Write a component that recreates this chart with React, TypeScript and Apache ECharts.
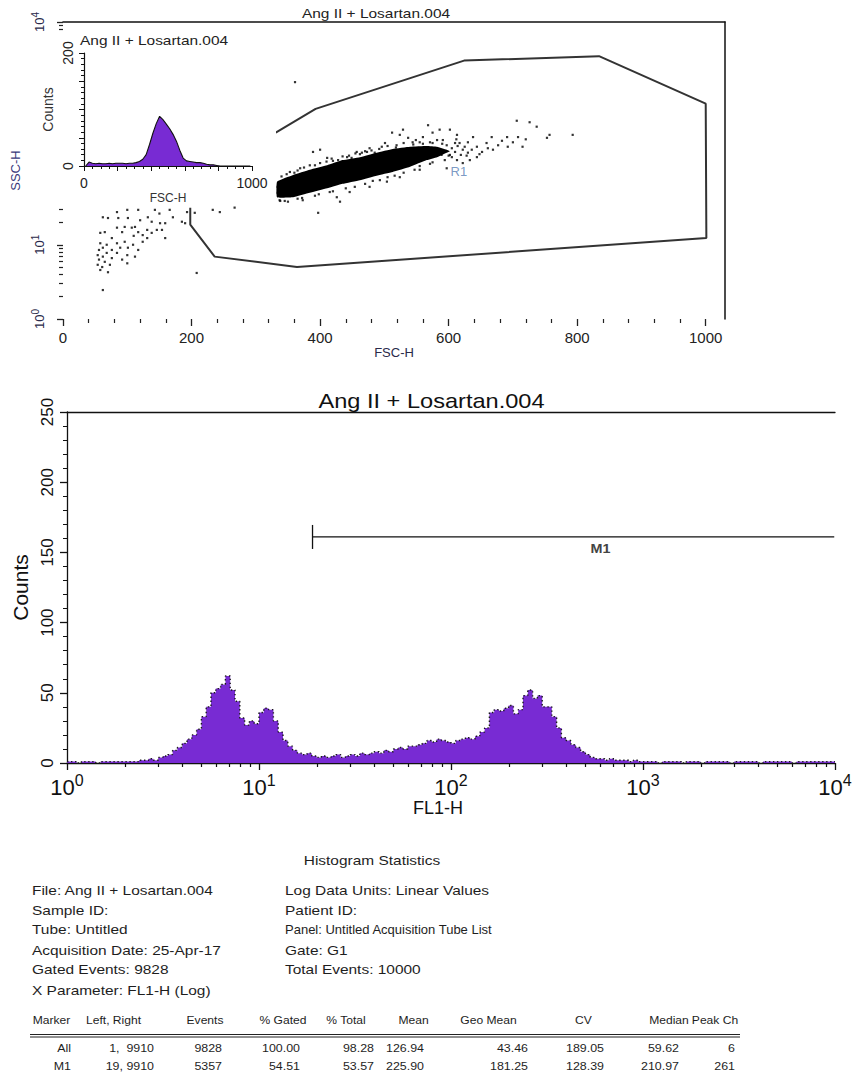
import React, { useEffect, useRef } from "react";
import * as echarts from "echarts";

const FONT = "'Liberation Sans', Arial, Helvetica, sans-serif";
const PURPLE = "#782bd3";
const TITLE = "Ang II + Losartan.004";

// ---------- Inset: FSC-H histogram (bins of 20 channels, 0..1000) ----------
const insetBinWidth = 20;
const insetCounts = [
  0, 7, 5, 4, 5, 4, 4, 5, 4, 5,
  5, 5, 4, 5, 5, 6, 8, 12, 20, 38,
  58, 75, 88, 82, 74, 66, 56, 44, 28, 14,
  9, 8, 7, 6, 6, 5, 3, 2, 2, 1,
  0, 0, 0, 0, 0, 0, 0, 0, 0, 0,
];

// ---------- Scatter FSC-H vs SSC-H (SSC as log10 decades) ----------
const coreFsc = [333, 358, 384, 411, 435, 462, 488, 513, 540, 566, 582, 597, 602, 597, 582, 566, 540, 513, 488, 462, 435, 411, 384, 358, 333];
const coreLogSsc = [1.64, 1.64, 1.70, 1.76, 1.82, 1.87, 1.93, 1.98, 2.05, 2.14, 2.18, 2.24, 2.26, 2.28, 2.32, 2.33, 2.32, 2.29, 2.24, 2.18, 2.14, 2.07, 2.01, 1.94, 1.85];

const debrisEvents = [
  [62, 1.37], [70, 1.36], [84, 1.44], [86, 1.36], [100, 1.47], [101, 1.36], [117, 1.47], [120, 1.33], [132, 1.37], [138, 1.31],
  [143, 1.47], [151, 1.29], [159, 1.29], [166, 1.47], [171, 1.37], [185, 1.31], [190, 1.29], [193, 1.44], [205, 1.43], [233, 1.47],
  [244, 1.44], [267, 1.5], [58, 1.16], [65, 1.17], [76, 1.09], [84, 1.23], [92, 1.17], [96, 1.24], [107, 1.23], [112, 1.24],
  [117, 1.17], [124, 1.13], [131, 1.2], [138, 1.16], [146, 1.2], [154, 1.2], [159, 1.09], [58, 1.02], [62, 0.96], [68, 1.0],
  [76, 0.93], [84, 1.02], [89, 0.96], [96, 1.04], [101, 0.96], [109, 1.0], [117, 0.93], [124, 1.04], [131, 1.09], [54, 0.86],
  [62, 0.84], [68, 0.89], [76, 0.82], [84, 0.89], [92, 0.8], [100, 0.86], [112, 0.84], [54, 0.73], [61, 0.7], [65, 0.77],
  [73, 0.73], [70, 0.63], [100, 0.75], [208, 0.62], [62, 0.39], [56, 0.93], [56, 0.8], [58, 0.66], [150, 1.42], [110, 1.12],
];

const cellEvents = [
  [389, 2.25], [400, 2.28], [418, 2.16], [457, 2.25], [465, 2.24], [477, 2.3], [485, 2.24], [501, 2.37], [512, 2.51], [524, 2.48],
  [529, 2.55], [537, 2.44], [544, 2.38], [560, 2.45], [568, 2.61], [575, 2.51], [586, 2.55], [591, 2.41], [602, 2.55], [613, 2.48],
  [617, 2.37], [622, 2.28], [630, 2.38], [638, 2.45], [644, 2.32], [652, 2.25], [659, 2.37], [667, 2.45], [669, 2.28], [677, 2.34],
  [691, 2.45], [692, 2.32], [708, 2.45], [715, 2.32], [726, 2.65], [737, 2.59], [753, 2.44], [757, 2.48], [793, 2.48], [706, 2.67],
  [575, 2.25], [589, 2.21], [605, 2.18], [613, 2.14], [622, 2.1], [633, 2.14], [644, 2.18], [597, 2.03], [555, 2.01], [524, 1.91],
  [504, 1.85], [477, 1.78], [446, 1.71], [426, 1.64], [431, 1.58], [373, 1.6], [337, 1.6], [342, 1.67], [411, 2.17], [442, 2.18],
  [397, 1.43], [361, 3.19], [605, 2.3], [610, 2.25], [614, 2.33], [619, 2.21], [625, 2.32], [630, 2.24], [636, 2.28], [610, 2.37],
  [597, 2.34], [602, 2.21], [369, 2.03], [353, 1.98], [384, 2.07], [428, 2.14], [449, 2.17], [473, 2.25], [496, 2.32], [519, 2.34],
  [549, 2.41], [571, 2.38], [582, 2.41], [345, 1.59], [365, 1.62], [392, 1.66], [415, 1.71], [454, 1.78], [493, 1.87], [516, 1.93],
  [547, 2.01], [571, 2.09], [594, 2.14], [648, 2.22], [661, 2.3], [683, 2.4], [700, 2.38], [720, 2.42], [612, 2.42], [628, 2.2],
  [340, 1.92], [348, 1.95], [365, 2.0], [375, 2.04], [392, 2.07], [400, 2.1], [420, 2.13], [445, 2.2], [455, 2.23], [470, 2.26],
  [480, 2.27], [505, 2.33], [530, 2.37], [555, 2.38], [575, 2.37], [590, 2.36], [338, 1.59], [350, 1.58], [372, 1.63], [398, 1.68],
  [420, 1.72], [440, 1.76], [470, 1.82], [482, 1.86], [505, 1.91], [530, 1.97], [555, 2.06], [575, 2.11], [600, 2.2], [334, 1.7],
  [334, 1.78], [336, 1.66], [360, 1.97], [410, 2.12], [435, 2.19], [462, 2.22], [492, 2.29], [518, 2.31], [545, 2.35], [560, 2.36],
];

const gateFsc = [198, 198, 236, 364, 1001, 1000, 834, 624, 393, 331];
const gateLogSsc = [1.5, 1.27, 0.84, 0.7, 1.09, 2.9, 3.54, 3.48, 2.83, 2.51];
const r1Label = [616, 1.99];

// ---------- FL1-H histogram (bins of 0.025 decade from 10^0 to 10^4) ----------
const fl1BinDecades = 0.025;
const fl1Counts = [
  1, 1, 0, 1, 1, 1, 0, 1, 1, 1, 1, 1, 1, 1, 1, 2, 2, 3, 2, 4,
  5, 6, 9, 11, 14, 17, 20, 24, 33, 40, 50, 53, 56, 62, 52, 44, 32, 27, 30, 28,
  36, 39, 38, 30, 22, 16, 12, 9, 7, 6, 7, 5, 4, 5, 4, 5, 6, 4, 5, 6,
  5, 7, 6, 7, 8, 7, 9, 8, 10, 11, 10, 12, 12, 13, 14, 16, 15, 17, 16, 15,
  14, 16, 17, 18, 17, 19, 22, 25, 36, 38, 37, 39, 41, 35, 38, 48, 52, 46, 48, 40,
  40, 33, 25, 18, 16, 13, 11, 8, 6, 4, 3, 3, 2, 3, 2, 2, 2, 1, 2, 1,
  1, 1, 1, 0, 1, 1, 1, 1, 0, 1, 1, 1, 0, 1, 1, 1, 1, 1, 0, 1,
  1, 1, 1, 1, 0, 1, 1, 1, 1, 1, 1, 0, 1, 1, 1, 1, 1, 1, 1, 1,
];
const m1Range = [19, 9910];
const m1Level = 161;
const m1LabelAt = 600;

// ---------- tick values ----------
const fscMajorTicks = [0, 200, 400, 600, 800, 1000];
const decadeTicks = [0, 1, 2, 3, 4];

// ---------- statistics text ----------
const statsLeft = [
  "File: Ang II + Losartan.004",
  "Sample ID:",
  "Tube: Untitled",
  "Acquisition Date: 25-Apr-17",
  "Gated Events: 9828",
  "X Parameter: FL1-H (Log)",
];
const statsRight = [
  "Log Data Units: Linear Values",
  "Patient ID:",
  "Panel: Untitled Acquisition Tube List",
  "Gate: G1",
  "Total Events: 10000",
];
const tableHeaders = ["Marker", "Left, Right", "Events", "% Gated", "% Total", "Mean", "Geo Mean", "CV", "Median", "Peak Ch"];
const tableRows = [
  ["All", "1,  9910", "9828", "100.00", "98.28", "126.94", "43.46", "189.05", "59.62", "6"],
  ["M1", "19, 9910", "5357", "54.51", "53.57", "225.90", "181.25", "128.39", "210.97", "261"],
];

// layout (pixels)
const statRowsY = [890.5, 910, 929.7, 950, 969.3, 990];
const headerCenters = [51.5, 113.5, 205, 283, 346, 413.5, 488.5, 583.5, 669, 715];
const columnRights = [71, 154, 222, 300, 374, 424, 528, 604, 679, 735];

function text(t: string, x: number, y: number, size: number, align = "left", sx = 1.19, color = "#1e1e1e", z = 10) {
  return {
    type: "text",
    x,
    y,
    scaleX: sx,
    z,
    style: {
      text: t,
      fontSize: size,
      fontFamily: FONT,
      fill: color,
      align,
      textAlign: align,
      verticalAlign: "middle",
      textVerticalAlign: "middle",
    },
  };
}

function buildOption() {
  const fscMinor: number[] = [];
  for (let v = 40; v < 1000; v += 40) if (v % 200 !== 0) fscMinor.push(v);
  const logMinor: number[] = [];
  for (let n = 0; n < 4; n++) for (let k = 2; k <= 9; k++) logMinor.push(n + Math.log10(k));

  const supFormatter = (v: number) => `{b|10}{s|${Math.round(v)}}`;
  const histRich = {
    b: { fontSize: 22, lineHeight: 26, verticalAlign: "bottom", fontFamily: FONT, color: "#111" },
    s: { fontSize: 16, lineHeight: 16, verticalAlign: "top", fontFamily: FONT, color: "#111" },
  };
  const scatRich = {
    b: { fontSize: 13, lineHeight: 16, verticalAlign: "bottom", fontFamily: FONT, color: "#2a2a4a" },
    s: { fontSize: 10, lineHeight: 10, verticalAlign: "top", fontFamily: FONT, color: "#2a2a4a" },
  };
  const line = (w = 1.3) => ({ show: true, onZero: false, lineStyle: { color: "#111", width: w } });
  const noLine = { show: false, onZero: false };
  const noSplit = { show: false };

  const insetData = insetCounts.map((c, i) => [i * insetBinWidth + insetBinWidth / 2, c]);
  const fl1Data = fl1Counts.map((c, i) => [i * fl1BinDecades, c]);
  fl1Data.push([fl1Counts.length * fl1BinDecades, fl1Counts[fl1Counts.length - 1]]);

  const statsElems: any[] = [];
  statsElems.push(text("Histogram Statistics", 372, 860, 13, "center"));
  statsLeft.forEach((s, i) => statsElems.push(text(s, 32, statRowsY[i], 13)));
  statsRight.forEach((s, i) =>
    statsElems.push(text(s, 285, statRowsY[i], 13, "left", i === 2 ? 1.0 : 1.19))
  );
  tableHeaders.forEach((h, i) => statsElems.push(text(h, headerCenters[i], 1019.5, 11.5, "center", 1.05)));
  tableRows.forEach((row, r) =>
    row.forEach((cell, c) => statsElems.push(text(cell, columnRights[c], 1048.5 + r * 18, 11.5, "right", 1.08)))
  );
  statsElems.push({ type: "line", shape: { x1: 30, y1: 1034.5, x2: 740, y2: 1034.5 }, style: { stroke: "#222", lineWidth: 1.2 } });
  statsElems.push({ type: "line", shape: { x1: 30, y1: 1037, x2: 740, y2: 1037 }, style: { stroke: "#222", lineWidth: 1.2 } });

  return {
    animation: false,
    backgroundColor: "#ffffff",
    textStyle: { fontFamily: FONT },
    grid: [
      { left: 63, top: 22, width: 662, height: 297 },
      { left: 84, top: 53, width: 168, height: 113 },
      { left: 67, top: 412, width: 768, height: 351 },
    ],
    xAxis: [
      {
        gridIndex: 0, type: "value", position: "bottom", min: 0, max: 1030,
        axisLine: noLine,
        axisTick: { show: true, customValues: fscMajorTicks, length: 7, lineStyle: { color: "#222", width: 1.3 } },
        axisLabel: { customValues: fscMajorTicks, formatter: (v: number) => String(v), fontSize: 15, color: "#222", margin: 11, fontFamily: FONT },
        splitLine: noSplit,
        name: "FSC-H", nameLocation: "middle", nameGap: 27,
        nameTextStyle: { fontSize: 13, color: "#2a2a4a", fontFamily: FONT },
      },
      {
        gridIndex: 0, type: "value", position: "bottom", min: 0, max: 1030,
        axisLine: noLine,
        axisTick: { show: true, customValues: fscMinor, length: 4, lineStyle: { color: "#222", width: 1.2 } },
        axisLabel: { show: false }, splitLine: noSplit,
      },
      {
        gridIndex: 0, type: "value", position: "top", min: 0, max: 1030,
        axisLine: line(1.5), axisTick: { show: false }, axisLabel: { show: false }, splitLine: noSplit,
      },
      {
        gridIndex: 1, type: "value", position: "bottom", min: 0, max: 1000, interval: 200, z: 4,
        axisLine: line(1.2),
        axisTick: { show: true, length: 5, lineStyle: { color: "#111" } },
        minorTick: { show: true, splitNumber: 4, length: 3, lineStyle: { color: "#111" } },
        axisLabel: {
          formatter: (v: number) => (v === 0 || v === 1000 ? String(v) : ""),
          fontSize: 14, color: "#222", margin: 10, fontFamily: FONT,
        },
        splitLine: noSplit,
        name: "FSC-H", nameLocation: "middle", nameGap: 26,
        nameTextStyle: { fontSize: 12, color: "#333", fontFamily: FONT },
      },
      {
        gridIndex: 2, type: "value", position: "bottom", min: 0, max: 4, interval: 1,
        axisLine: line(1.3),
        axisTick: { show: true, length: 7, lineStyle: { color: "#111", width: 1.3 } },
        axisLabel: { formatter: supFormatter, rich: histRich, margin: 9 },
        splitLine: noSplit,
        name: "FL1-H", nameLocation: "middle", nameGap: 30,
        nameTextStyle: { fontSize: 18, color: "#111", fontFamily: FONT, padding: [0, 26, 0, 0] },
      },
      {
        gridIndex: 2, type: "value", position: "bottom", min: 0, max: 4,
        axisLine: noLine,
        axisTick: { show: true, customValues: logMinor, length: 4, lineStyle: { color: "#111", width: 1.2 } },
        axisLabel: { show: false }, splitLine: noSplit,
      },
      {
        gridIndex: 2, type: "value", position: "top", min: 0, max: 4,
        axisLine: line(1.3), axisTick: { show: false }, axisLabel: { show: false }, splitLine: noSplit,
      },
    ],
    yAxis: [
      {
        gridIndex: 0, type: "value", position: "left", min: 0, max: 4,
        axisLine: noLine,
        axisTick: { show: true, customValues: decadeTicks, length: 6, lineStyle: { color: "#222", width: 1.3 } },
        axisLabel: { customValues: decadeTicks, formatter: supFormatter, rich: scatRich, rotate: 90, margin: 17 },
        splitLine: noSplit,
        name: "SSC-H", nameLocation: "middle", nameGap: 36,
        nameTextStyle: { fontSize: 13, color: "#3a3a7a", fontFamily: FONT },
      },
      {
        gridIndex: 0, type: "value", position: "left", min: 0, max: 4,
        axisLine: noLine,
        axisTick: { show: true, customValues: logMinor, length: 4, lineStyle: { color: "#222", width: 1.2 } },
        axisLabel: { show: false }, splitLine: noSplit,
      },
      {
        gridIndex: 0, type: "value", position: "right", min: 0, max: 4,
        axisLine: line(1.5), axisTick: { show: false }, axisLabel: { show: false }, splitLine: noSplit,
      },
      {
        gridIndex: 1, type: "value", position: "left", min: 0, max: 200, interval: 50, z: 4,
        axisLine: line(1.2),
        axisTick: { show: true, length: 5, lineStyle: { color: "#111" } },
        minorTick: { show: true, splitNumber: 5, length: 3, lineStyle: { color: "#111" } },
        axisLabel: {
          formatter: (v: number) => (v === 0 || v === 200 ? String(v) : ""),
          rotate: 90, fontSize: 14, color: "#222", margin: 9, fontFamily: FONT,
        },
        splitLine: noSplit,
        name: "Counts", nameLocation: "middle", nameGap: 29,
        nameTextStyle: { fontSize: 14, color: "#333", fontFamily: FONT },
      },
      {
        gridIndex: 2, type: "value", position: "left", min: 0, max: 250, interval: 50,
        axisLine: line(1.3),
        axisTick: { show: true, length: 7, lineStyle: { color: "#111", width: 1.3 } },
        minorTick: { show: true, splitNumber: 5, length: 4, lineStyle: { color: "#111" } },
        axisLabel: { rotate: 90, fontSize: 17, color: "#111", margin: 11, fontFamily: FONT },
        splitLine: noSplit,
        name: "Counts", nameLocation: "middle", nameGap: 33,
        nameTextStyle: { fontSize: 21, color: "#111", fontFamily: FONT },
      },
    ],
    series: [
      {
        type: "custom", xAxisIndex: 0, yAxisIndex: 0, z: 2,
        data: [[coreFsc[0], coreLogSsc[0]]],
        renderItem: (_p: any, api: any) => ({
          type: "polygon",
          shape: { points: coreFsc.map((f, i) => api.coord([f, coreLogSsc[i]])), smooth: 0.1 },
          style: { fill: "#000" },
        }),
        silent: true,
      },
      {
        type: "scatter", xAxisIndex: 0, yAxisIndex: 0, z: 2,
        symbol: "rect", symbolSize: 2.2,
        itemStyle: { color: "#000" },
        data: debrisEvents.concat(cellEvents),
        silent: true,
      },
      {
        type: "line", xAxisIndex: 0, yAxisIndex: 0, z: 2,
        showSymbol: false, symbol: "none",
        data: gateFsc.map((f, i) => [f, gateLogSsc[i]]),
        lineStyle: { color: "#333", width: 2 },
        silent: true,
      },
      {
        type: "scatter", xAxisIndex: 0, yAxisIndex: 0, z: 2,
        symbolSize: 0, data: [r1Label],
        label: { show: true, position: "inside", formatter: "R1", fontSize: 13, color: "#5a7fb5", fontFamily: FONT },
        silent: true,
      },
      {
        type: "line", xAxisIndex: 3, yAxisIndex: 3, z: 5,
        showSymbol: false, symbol: "none",
        data: insetData,
        lineStyle: { color: "#111", width: 1.1 },
        areaStyle: { color: PURPLE, opacity: 1 },
        silent: true,
      },
      {
        type: "line", xAxisIndex: 4, yAxisIndex: 4, z: 2,
        step: "end", showSymbol: false, symbol: "none",
        data: fl1Data,
        lineStyle: { color: "#1a1a1a", width: 1.4, type: [1.4, 2.6] },
        areaStyle: { color: PURPLE, opacity: 1 },
        silent: true,
      },
      {
        type: "custom", xAxisIndex: 4, yAxisIndex: 4, z: 3,
        data: [[Math.log10(m1Range[0]), Math.log10(m1Range[1]), m1Level, Math.log10(m1LabelAt)]],
        renderItem: (_p: any, api: any) => {
          const a = api.coord([api.value(0), api.value(2)]);
          const b = api.coord([api.value(1), api.value(2)]);
          const lab = api.coord([api.value(3), api.value(2)]);
          return {
            type: "group",
            children: [
              { type: "line", shape: { x1: a[0], y1: a[1], x2: b[0], y2: b[1] }, style: { stroke: "#111", lineWidth: 1.3 } },
              { type: "line", shape: { x1: a[0], y1: a[1] - 12, x2: a[0], y2: a[1] + 12 }, style: { stroke: "#111", lineWidth: 1.3 } },
              {
                type: "text", x: lab[0], y: lab[1] + 12, scaleX: 1.15,
                style: { text: "M1", fontSize: 12.5, fontWeight: "bold", fontFamily: FONT, fill: "#444", align: "center", verticalAlign: "middle", textAlign: "center", textVerticalAlign: "middle" },
              },
            ],
          };
        },
        silent: true,
      },
    ],
    graphic: {
      elements: [
        { type: "rect", z: 3, shape: { x: 30, y: 31, width: 246, height: 174 }, style: { fill: "#ffffff" }, silent: true },
        text(TITLE, 376, 13, 13, "center", 1.19, "#222"),
        text(TITLE, 80, 40.5, 13, "left", 1.19, "#222", 6),
        text(TITLE, 431.5, 401, 20, "center", 1.18, "#111"),
        ...statsElems,
      ],
    },
  };
}

export default function App() {
  const ref = useRef<HTMLDivElement>(null);
  useEffect(() => {
    if (!ref.current) return;
    const chart = echarts.init(ref.current, undefined, { renderer: "svg" });
    chart.setOption(buildOption() as any);
    return () => chart.dispose();
  }, []);
  return (
    <div
      ref={ref}
      style={{ position: "absolute", left: 0, top: 0, width: 858, height: 1074, background: "#fff" }}
    />
  );
}
